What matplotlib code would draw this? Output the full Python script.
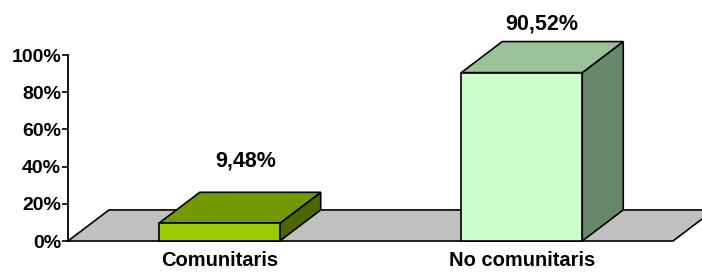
import matplotlib
matplotlib.use("Agg")
import matplotlib.pyplot as plt
from matplotlib.patches import Polygon, Rectangle

categories = ["Comunitaris", "No comunitaris"]
values = [9.48, 90.52]
value_labels = ["9,48%", "90,52%"]
yticks = [0, 20, 40, 60, 80, 100]
ytick_labels = ["0%", "20%", "40%", "60%", "80%", "100%"]

# style
front_colors = ["#99CC00", "#CCFFCC"]
top_colors = ["#739900", "#99C299"]
side_colors = ["#4D6600", "#668866"]
floor_color = "#C0C0C0"
label_gap = [17.0, 9.5]
label_shift = [0.02, 0.0]
bar_w = 0.4
dx, dy = 0.1355, 16.7
lw = 1.2

plt.rcParams['font.family'] = ['Liberation Sans', 'DejaVu Sans']
fig = plt.figure(figsize=(7.02, 2.72), dpi=100)
ax = fig.add_axes([68 / 702, 31 / 272, 605 / 702, 186 / 272])
ax.set_xlim(-0.5, 1.5)
ax.set_ylim(0, 100)

x0, x1 = ax.get_xlim()
floor = Polygon([(x0, 0), (x1, 0), (x1 + dx, dy), (x0 + dx, dy)], closed=True,
                facecolor=floor_color, edgecolor="black", lw=lw, clip_on=False, zorder=1)
ax.add_patch(floor)

for i, v in enumerate(values):
    l, r = i - bar_w / 2, i + bar_w / 2
    front = Rectangle((l, 0), bar_w, v, facecolor=front_colors[i], edgecolor="black",
                      lw=lw, clip_on=False, zorder=3)
    top = Polygon([(l, v), (r, v), (r + dx, v + dy), (l + dx, v + dy)], closed=True,
                  facecolor=top_colors[i], edgecolor="black", lw=lw, clip_on=False, zorder=2)
    side = Polygon([(r, 0), (r + dx, dy), (r + dx, v + dy), (r, v)], closed=True,
                   facecolor=side_colors[i], edgecolor="black", lw=lw, clip_on=False, zorder=2)
    ax.add_patch(side)
    ax.add_patch(top)
    ax.add_patch(front)
    ax.text(i + dx / 2 + label_shift[i], v + dy + label_gap[i], value_labels[i],
            ha="center", va="center", fontsize=15.5, fontweight="bold", clip_on=False)

for s in ["top", "right", "bottom"]:
    ax.spines[s].set_visible(False)
ax.spines["left"].set_linewidth(1.3)
ax.spines["left"].set_zorder(5)
ax.set_yticks(yticks)
ax.set_yticklabels(ytick_labels, fontsize=14, fontweight="bold")
ax.tick_params(axis="y", length=4, width=1.2, pad=1)
ax.set_xticks(range(len(categories)))
ax.set_xticklabels(categories, fontsize=14.5, fontweight="bold")
ax.tick_params(axis="x", length=0, pad=7.5)
ax.patch.set_visible(False)

fig.savefig("out.png", dpi=100)
